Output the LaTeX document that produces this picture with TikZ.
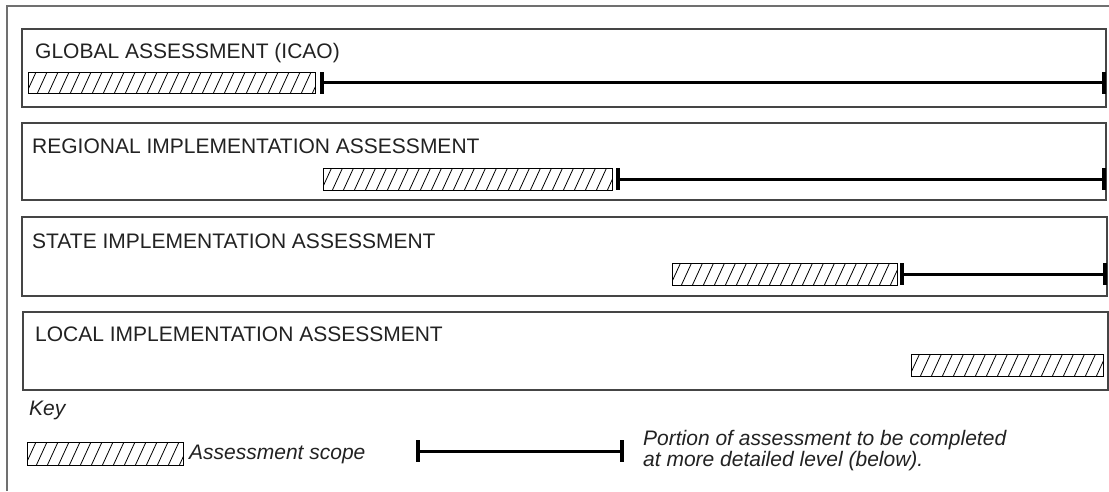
\documentclass[tikz,border=0pt]{standalone}
\usepackage{fontspec}
\setmainfont{Liberation Sans}
\definecolor{framegray}{HTML}{707070}
\definecolor{boxgray}{HTML}{454545}
\definecolor{textgray}{HTML}{222222}
\tikzset{
  outerframe/.style={draw=framegray, line width=2pt},
  levelbox/.style={draw=boxgray, line width=1.3pt},
  lbl/.style={anchor=base west, inner sep=0pt, text=textgray, font=\fontsize{21}{21}\selectfont},
  keylbl/.style={anchor=base west, inner sep=0pt, text=textgray, font=\fontsize{21}{21}\selectfont\itshape},
  scopebox/.style={draw=black, line width=0.9pt},
  hatchline/.style={draw=black, line width=0.8pt},
  portion/.style={draw=black, line width=3pt},
  tickmark/.style={fill=black, draw=none}
}
\newcommand{\hatchbar}[4]{%
  \begin{scope}
    \clip (#1,#2) rectangle (#3,#4);
    \foreach \i in {-1,...,28} {\draw[hatchline] ({#1+\i*11-2},#4+1) -- ++(11,-24);}
  \end{scope}
  \draw[scopebox] (#1,#2) rectangle (#3,#4);
}
\newcommand{\portionbar}[4]{% name, x1, x2, y
  \coordinate (#1-a) at (#2,#4);
  \coordinate (#1-b) at (#3,#4);
  \draw[portion] (#1-a) -- (#1-b);
  \fill[tickmark] ([xshift=-2pt,yshift=11pt]#1-a) rectangle ([xshift=2pt,yshift=-11pt]#1-a);
  \fill[tickmark] ([xshift=-2pt,yshift=11pt]#1-b) rectangle ([xshift=2pt,yshift=-11pt]#1-b);
}
\begin{document}
\begin{tikzpicture}[x=1pt,y=-1pt]
  \useasboundingbox (0,0) rectangle (1109,491);
  \fill[white] (0,0) rectangle (1109,491);
  \draw[outerframe] (7,491) -- (7,6) -- (1109,6);

  % level boxes
  \draw[levelbox] (22,29) rectangle (1106,107);
  \draw[levelbox] (22,123) rectangle (1106,200);
  \draw[levelbox] (22,217) rectangle (1107,296);
  \draw[levelbox] (23,312) rectangle (1108,390);

  \node[lbl] (t1) at (35,58) {GLOBAL ASSESSMENT (ICAO)};
  \node[lbl] (t2) at (32,153) {REGIONAL IMPLEMENTATION ASSESSMENT};
  \node[lbl] (t3) at (32,248) {STATE IMPLEMENTATION ASSESSMENT};
  \node[lbl] (t4) at (35,341) {LOCAL IMPLEMENTATION ASSESSMENT};

  % scopes
  \hatchbar{28}{72}{315}{93}
  \hatchbar{323}{168}{612}{190}
  \hatchbar{672}{263}{897}{285}
  \hatchbar{911}{354}{1103}{376}

  % portions
  \portionbar{p1}{322}{1104}{82.5}
  \portionbar{p2}{618}{1104}{179}
  \portionbar{p3}{902}{1105}{274}

  % key
  \node[keylbl] (key) at (29,415) {Key};
  \hatchbar{27}{442}{183}{465}
  \node[keylbl] (ks) at (189,459) {Assessment scope};
  \portionbar{pk}{418}{622}{451}
  \node[keylbl] (kp1) at (643,445) {Portion of assessment to be completed};
  \node[keylbl] (kp2) at (643,466) {at more detailed level (below).};
\end{tikzpicture}
\end{document}
